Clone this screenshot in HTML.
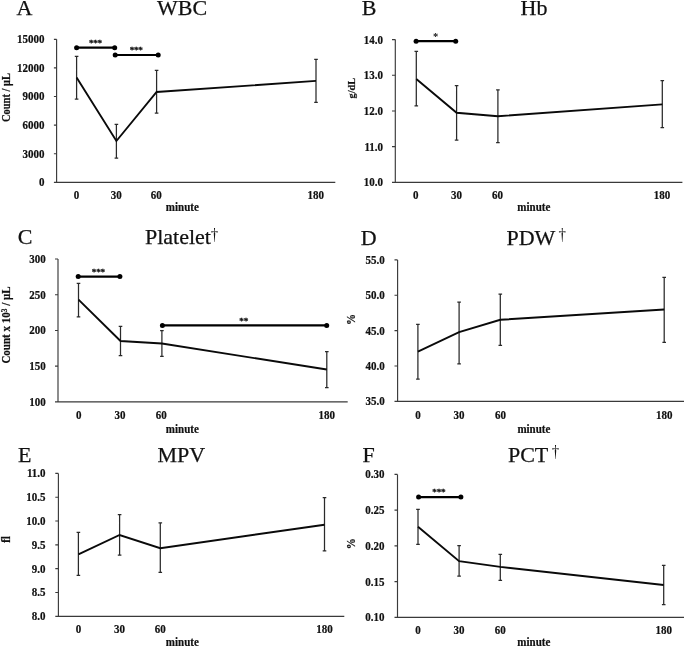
<!DOCTYPE html>
<html><head><meta charset="utf-8"><style>
html,body{margin:0;padding:0;background:#fff;}
svg{display:block;will-change:transform;}
.t{font-family:"Liberation Serif",serif;font-weight:bold;font-size:11px;fill:#111;stroke:#111;stroke-width:0.2px;}
.s{font-family:"Liberation Serif",serif;font-weight:bold;font-size:9.2px;letter-spacing:-0.25px;fill:#111;stroke:#111;stroke-width:0.3px;}
.s1{font-family:"Liberation Serif",serif;font-weight:bold;font-size:10.5px;fill:#111;}
.h{font-family:"Liberation Serif",serif;font-size:22px;fill:#111;stroke:#111;stroke-width:0.25px;}
.d{font-family:"Liberation Serif",serif;font-size:15px;fill:#111;}
</style></head><body>
<svg width="685" height="646" viewBox="0 0 685 646">
<rect width="685" height="646" fill="#fff"/>
<g><path d="M56.6 39.3V182.4M53.9 182.4H335.3" stroke="#3a3a3a" stroke-width="1.15" fill="none"/><text transform="translate(44.4 186.3) scale(1 1.1)" class="t" text-anchor="end">0</text><text transform="translate(44.4 157.68) scale(1 1.1)" class="t" text-anchor="end">3000</text><text transform="translate(44.4 129.06) scale(1 1.1)" class="t" text-anchor="end">6000</text><text transform="translate(44.4 100.44) scale(1 1.1)" class="t" text-anchor="end">9000</text><text transform="translate(44.4 71.82) scale(1 1.1)" class="t" text-anchor="end">12000</text><text transform="translate(44.4 43.2) scale(1 1.1)" class="t" text-anchor="end">15000</text><path d="M53.9 153.78H56.6M53.9 125.16H56.6M53.9 96.54H56.6M53.9 67.92H56.6M53.9 39.3H56.6" stroke="#3a3a3a" stroke-width="1.15" fill="none"/><text transform="translate(76.6 198.8) scale(1 1.1)" class="t" text-anchor="middle">0</text><text transform="translate(116.2 198.8) scale(1 1.1)" class="t" text-anchor="middle">30</text><text transform="translate(156.2 198.8) scale(1 1.1)" class="t" text-anchor="middle">60</text><text transform="translate(315.7 198.8) scale(1 1.1)" class="t" text-anchor="middle">180</text><text transform="translate(182.3 210.8) scale(1 1.1)" class="t" text-anchor="middle">minute</text><text transform="translate(9.9 97.5) rotate(-90) scale(1 1.12)" class="t" style="font-size:10.5px" text-anchor="middle">Count / μL</text><path d="M76.6 56.3V99.2M74.8 56.3H78.4M74.8 99.2H78.4M116.4 124.3V158M114.6 124.3H118.2M114.6 158H118.2M156.6 70.3V113M154.8 70.3H158.4M154.8 113H158.4M316 59.4V102.3M314.2 59.4H317.8M314.2 102.3H317.8" stroke="#2a2a2a" stroke-width="1.25" fill="none"/><polyline points="76.6,77.5 116.4,141 156.6,92 316,80.9" stroke="#0a0a0a" stroke-width="1.9" fill="none" stroke-linejoin="miter"/><path d="M76.6 47.7H114.7" stroke="#000" stroke-width="2.2"/><circle cx="76.6" cy="47.7" r="2.5"/><circle cx="114.7" cy="47.7" r="2.5"/><text x="95.45" y="46.05" class="s" text-anchor="middle">***</text><path d="M115.2 55H158.2" stroke="#000" stroke-width="2.2"/><circle cx="115.2" cy="55" r="2.5"/><circle cx="158.2" cy="55" r="2.5"/><text x="136.15" y="53.35" class="s" text-anchor="middle">***</text><text transform="translate(16.4 15.35) scale(1 1.0)" class="h">A</text><text transform="translate(182 15.35) scale(1 1.0)" class="h" text-anchor="middle">WBC</text></g>
<g><path d="M395.3 39.6V182.3M392 182.3H682.4" stroke="#3a3a3a" stroke-width="1.15" fill="none"/><text transform="translate(383 186.2) scale(1 1.1)" class="t" text-anchor="end">10.0</text><text transform="translate(383 150.53) scale(1 1.1)" class="t" text-anchor="end">11.0</text><text transform="translate(383 114.85) scale(1 1.1)" class="t" text-anchor="end">12.0</text><text transform="translate(383 79.18) scale(1 1.1)" class="t" text-anchor="end">13.0</text><text transform="translate(383 43.5) scale(1 1.1)" class="t" text-anchor="end">14.0</text><path d="M392 146.62H395.3M392 110.95H395.3M392 75.28H395.3M392 39.6H395.3" stroke="#3a3a3a" stroke-width="1.15" fill="none"/><text transform="translate(415.7 198.7) scale(1 1.1)" class="t" text-anchor="middle">0</text><text transform="translate(456.6 198.7) scale(1 1.1)" class="t" text-anchor="middle">30</text><text transform="translate(497.6 198.7) scale(1 1.1)" class="t" text-anchor="middle">60</text><text transform="translate(662 198.7) scale(1 1.1)" class="t" text-anchor="middle">180</text><text transform="translate(533.8 210.8) scale(1 1.1)" class="t" text-anchor="middle">minute</text><text transform="translate(354.6 88.1) rotate(-90) scale(1 1.03)" class="t" style="font-size:10.3px" text-anchor="middle">g/dL</text><path d="M416.3 51.4V105.9M414.5 51.4H418.1M414.5 105.9H418.1M456.6 85.7V140.2M454.8 85.7H458.4M454.8 140.2H458.4M497.9 89.9V142.7M496.1 89.9H499.7M496.1 142.7H499.7M662.3 80.6V127.7M660.5 80.6H664.1M660.5 127.7H664.1" stroke="#2a2a2a" stroke-width="1.25" fill="none"/><polyline points="416.3,78.9 456.6,112.8 497.9,116.2 662.3,104.4" stroke="#0a0a0a" stroke-width="1.9" fill="none" stroke-linejoin="miter"/><path d="M416.1 41.2H455.7" stroke="#000" stroke-width="2.2"/><circle cx="416.1" cy="41.2" r="2.5"/><circle cx="455.7" cy="41.2" r="2.5"/><text x="435.6" y="39.95" class="s1" text-anchor="middle">*</text><text transform="translate(361.7 15.35) scale(1 1.0)" class="h">B</text><text transform="translate(534 15.35) scale(1 1.0)" class="h" text-anchor="middle">Hb</text></g>
<g><path d="M58 259V401.9M55 401.9H347.7" stroke="#3a3a3a" stroke-width="1.15" fill="none"/><text transform="translate(45.8 405.8) scale(1 1.1)" class="t" text-anchor="end">100</text><text transform="translate(45.8 370.07) scale(1 1.1)" class="t" text-anchor="end">150</text><text transform="translate(45.8 334.35) scale(1 1.1)" class="t" text-anchor="end">200</text><text transform="translate(45.8 298.62) scale(1 1.1)" class="t" text-anchor="end">250</text><text transform="translate(45.8 262.9) scale(1 1.1)" class="t" text-anchor="end">300</text><path d="M55 366.17H58M55 330.45H58M55 294.73H58M55 259H58" stroke="#3a3a3a" stroke-width="1.15" fill="none"/><text transform="translate(78.7 418.9) scale(1 1.1)" class="t" text-anchor="middle">0</text><text transform="translate(119.9 418.9) scale(1 1.1)" class="t" text-anchor="middle">30</text><text transform="translate(161.2 418.9) scale(1 1.1)" class="t" text-anchor="middle">60</text><text transform="translate(326.8 418.9) scale(1 1.1)" class="t" text-anchor="middle">180</text><text transform="translate(182.3 432.7) scale(1 1.1)" class="t" text-anchor="middle">minute</text><text transform="translate(10.2 325) rotate(-90) scale(1 1.05)" class="t" style="font-size:11px" text-anchor="middle">Count x 10<tspan dy="-3.2" font-size="7.5">3</tspan><tspan dy="3.2"> / μL</tspan></text><path d="M78.5 283.3V316.9M76.7 283.3H80.3M76.7 316.9H80.3M120.5 326.4V355.6M118.7 326.4H122.3M118.7 355.6H122.3M161.9 330.5V356.4M160.1 330.5H163.7M160.1 356.4H163.7M326.8 351.5V387.5M325 351.5H328.6M325 387.5H328.6" stroke="#2a2a2a" stroke-width="1.25" fill="none"/><polyline points="78.5,299.6 120.5,341 161.9,343.5 326.8,369.5" stroke="#0a0a0a" stroke-width="1.9" fill="none" stroke-linejoin="miter"/><path d="M78.2 276.6H119.9" stroke="#000" stroke-width="2.2"/><circle cx="78.2" cy="276.6" r="2.5"/><circle cx="119.9" cy="276.6" r="2.5"/><text x="98.35" y="274.95" class="s" text-anchor="middle">***</text><path d="M162.4 325.4H326.7" stroke="#000" stroke-width="2.2"/><circle cx="162.4" cy="325.4" r="2.5"/><circle cx="326.7" cy="325.4" r="2.5"/><text x="243.65" y="323.75" class="s" text-anchor="middle">**</text><text transform="translate(17.7 244.4) scale(1 1.0)" class="h">C</text><text transform="translate(177.9 244.4) scale(1 1.0)" class="h" text-anchor="middle">Platelet</text><text transform="translate(214.5 239.9) scale(1 1.1)" class="d" text-anchor="middle">†</text></g>
<g><path d="M397.6 259.9V401.3M394.5 401.3H684" stroke="#3a3a3a" stroke-width="1.15" fill="none"/><text transform="translate(384.8 405.2) scale(1 1.1)" class="t" text-anchor="end">35.0</text><text transform="translate(384.8 369.85) scale(1 1.1)" class="t" text-anchor="end">40.0</text><text transform="translate(384.8 334.5) scale(1 1.1)" class="t" text-anchor="end">45.0</text><text transform="translate(384.8 299.15) scale(1 1.1)" class="t" text-anchor="end">50.0</text><text transform="translate(384.8 263.8) scale(1 1.1)" class="t" text-anchor="end">55.0</text><path d="M394.5 365.95H397.6M394.5 330.6H397.6M394.5 295.25H397.6M394.5 259.9H397.6" stroke="#3a3a3a" stroke-width="1.15" fill="none"/><text transform="translate(417.9 418.5) scale(1 1.1)" class="t" text-anchor="middle">0</text><text transform="translate(459.1 418.5) scale(1 1.1)" class="t" text-anchor="middle">30</text><text transform="translate(500.4 418.5) scale(1 1.1)" class="t" text-anchor="middle">60</text><text transform="translate(664.2 418.5) scale(1 1.1)" class="t" text-anchor="middle">180</text><text transform="translate(533.9 432.8) scale(1 1.1)" class="t" text-anchor="middle">minute</text><text transform="translate(354.5 319.45) rotate(-90) scale(1 1.1)" class="t" style="font-size:11px" text-anchor="middle">%</text><path d="M417.9 324.4V379.2M416.1 324.4H419.7M416.1 379.2H419.7M459.1 302V363.8M457.3 302H460.9M457.3 363.8H460.9M500.3 294.1V345.4M498.5 294.1H502.1M498.5 345.4H502.1M664.2 277.4V342.4M662.4 277.4H666M662.4 342.4H666" stroke="#2a2a2a" stroke-width="1.25" fill="none"/><polyline points="417.9,351.7 459.1,332.2 500.3,319.8 664.2,309.5" stroke="#0a0a0a" stroke-width="1.9" fill="none" stroke-linejoin="miter"/><text transform="translate(360.7 244.9) scale(1 1.0)" class="h">D</text><text transform="translate(530.9 244.9) scale(1 1.0)" class="h" text-anchor="middle">PDW</text><text transform="translate(562.3 240) scale(1 1.1)" class="d" text-anchor="middle">†</text></g>
<g><path d="M58.4 473.4V616.3M55.3 616.3H344.3" stroke="#3a3a3a" stroke-width="1.15" fill="none"/><text transform="translate(45.6 620.2) scale(1 1.1)" class="t" text-anchor="end">8.0</text><text transform="translate(45.6 596.38) scale(1 1.1)" class="t" text-anchor="end">8.5</text><text transform="translate(45.6 572.57) scale(1 1.1)" class="t" text-anchor="end">9.0</text><text transform="translate(45.6 548.75) scale(1 1.1)" class="t" text-anchor="end">9.5</text><text transform="translate(45.6 524.93) scale(1 1.1)" class="t" text-anchor="end">10.0</text><text transform="translate(45.6 501.12) scale(1 1.1)" class="t" text-anchor="end">10.5</text><text transform="translate(45.6 477.3) scale(1 1.1)" class="t" text-anchor="end">11.0</text><path d="M55.3 592.48H58.4M55.3 568.67H58.4M55.3 544.85H58.4M55.3 521.03H58.4M55.3 497.22H58.4M55.3 473.4H58.4" stroke="#3a3a3a" stroke-width="1.15" fill="none"/><text transform="translate(78.4 632.7) scale(1 1.1)" class="t" text-anchor="middle">0</text><text transform="translate(119.6 632.7) scale(1 1.1)" class="t" text-anchor="middle">30</text><text transform="translate(160.3 632.7) scale(1 1.1)" class="t" text-anchor="middle">60</text><text transform="translate(324.5 632.7) scale(1 1.1)" class="t" text-anchor="middle">180</text><text transform="translate(182.3 645.6) scale(1 1.1)" class="t" text-anchor="middle">minute</text><text transform="translate(9.6 539.5) rotate(-90) scale(1 1.13)" class="t" style="font-size:11px" text-anchor="middle">fl</text><path d="M78.4 532.4V575.3M76.6 532.4H80.2M76.6 575.3H80.2M119.6 514.5V555.2M117.8 514.5H121.4M117.8 555.2H121.4M160.3 522.8V572.4M158.5 522.8H162.1M158.5 572.4H162.1M324.5 497.7V550.9M322.7 497.7H326.3M322.7 550.9H326.3" stroke="#2a2a2a" stroke-width="1.25" fill="none"/><polyline points="78.4,554.3 119.6,535 160.3,548.2 324.5,524.7" stroke="#0a0a0a" stroke-width="1.9" fill="none" stroke-linejoin="miter"/><text transform="translate(18 461.5) scale(1 1.0)" class="h">E</text><text transform="translate(181.4 461.5) scale(1 1.0)" class="h" text-anchor="middle">MPV</text></g>
<g><path d="M397.5 474.4V617.4M394.5 617.4H684" stroke="#3a3a3a" stroke-width="1.15" fill="none"/><text transform="translate(384.6 621.3) scale(1 1.1)" class="t" text-anchor="end">0.10</text><text transform="translate(384.6 585.55) scale(1 1.1)" class="t" text-anchor="end">0.15</text><text transform="translate(384.6 549.8) scale(1 1.1)" class="t" text-anchor="end">0.20</text><text transform="translate(384.6 514.05) scale(1 1.1)" class="t" text-anchor="end">0.25</text><text transform="translate(384.6 478.3) scale(1 1.1)" class="t" text-anchor="end">0.30</text><path d="M394.5 581.65H397.5M394.5 545.9H397.5M394.5 510.15H397.5M394.5 474.4H397.5" stroke="#3a3a3a" stroke-width="1.15" fill="none"/><text transform="translate(418 633.8) scale(1 1.1)" class="t" text-anchor="middle">0</text><text transform="translate(459.1 633.8) scale(1 1.1)" class="t" text-anchor="middle">30</text><text transform="translate(500.3 633.8) scale(1 1.1)" class="t" text-anchor="middle">60</text><text transform="translate(663.7 633.8) scale(1 1.1)" class="t" text-anchor="middle">180</text><text transform="translate(533.8 645.6) scale(1 1.1)" class="t" text-anchor="middle">minute</text><text transform="translate(354.5 543.85) rotate(-90) scale(1 1.1)" class="t" style="font-size:11px" text-anchor="middle">%</text><path d="M418 509.4V544.3M416.2 509.4H419.8M416.2 544.3H419.8M459.1 545.6V576M457.3 545.6H460.9M457.3 576H460.9M500.3 554.3V580.3M498.5 554.3H502.1M498.5 580.3H502.1M663.7 565.3V604.5M661.9 565.3H665.5M661.9 604.5H665.5" stroke="#2a2a2a" stroke-width="1.25" fill="none"/><polyline points="418,526.8 459.1,561.2 500.3,566.9 663.7,585" stroke="#0a0a0a" stroke-width="1.9" fill="none" stroke-linejoin="miter"/><path d="M418.6 497.1H460.9" stroke="#000" stroke-width="2.2"/><circle cx="418.6" cy="497.1" r="2.5"/><circle cx="460.9" cy="497.1" r="2.5"/><text x="438.85" y="495.45" class="s" text-anchor="middle">***</text><text transform="translate(362.6 461.5) scale(1 1.0)" class="h">F</text><text transform="translate(528.1 461.5) scale(1 1.0)" class="h" text-anchor="middle">PCT</text><text transform="translate(555.5 456.5) scale(1 1.1)" class="d" text-anchor="middle">†</text></g>
</svg>
</body></html>
